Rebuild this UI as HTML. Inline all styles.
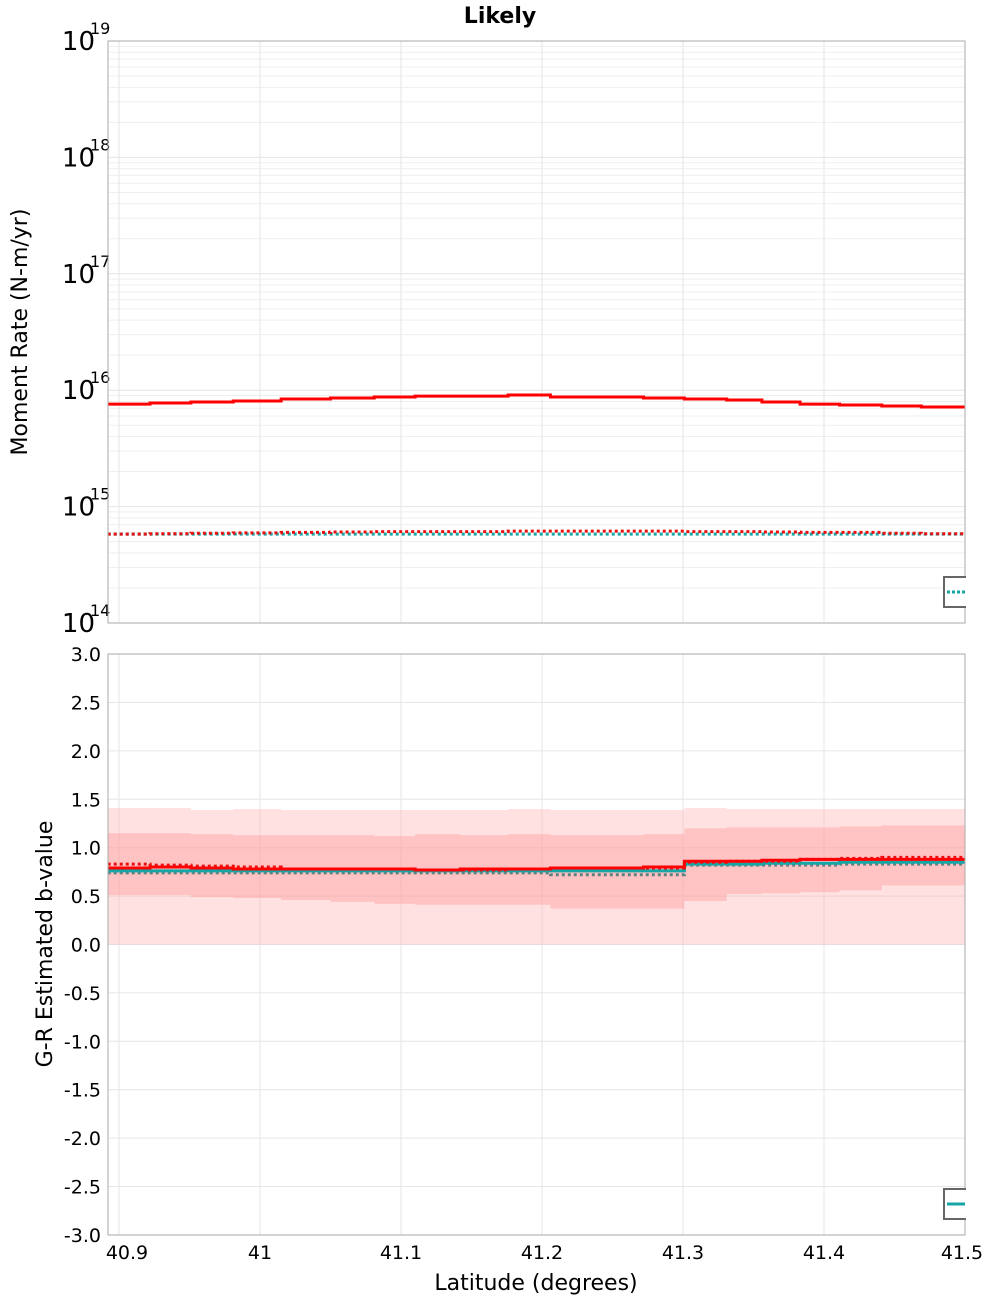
<!DOCTYPE html>
<html><head><meta charset="utf-8"><style>
body{margin:0;background:#fff;}
svg text{font-family:"DejaVu Sans","Liberation Sans",sans-serif;}
</style></head><body>
<svg id="chart" width="1000" height="1300" xmlns="http://www.w3.org/2000/svg">
<text x="500" y="23" text-anchor="middle" font-size="22" font-weight="bold">Likely</text>
<text transform="translate(27,332) rotate(-90)" text-anchor="middle" font-size="22">Moment Rate (N-m/yr)</text>
<text transform="translate(52,944) rotate(-90)" text-anchor="middle" font-size="22">G-R Estimated b-value</text>
<text x="536" y="1290" text-anchor="middle" font-size="22">Latitude (degrees)</text>
<g id="topPanel"></g>
<g id="botPanel"></g>
</svg>
<script>
const edges=[40.892,40.922,40.951,40.981,41.015,41.050,41.081,41.110,41.142,41.176,41.206,41.272,41.301,41.331,41.356,41.383,41.411,41.441,41.469,41.5];
const momentSolid=[7.6e15,7.76e15,7.92e15,8.08e15,8.4e15,8.57e15,8.74e15,8.9e15,8.9e15,9.1e15,8.74e15,8.57e15,8.4e15,8.24e15,7.92e15,7.6e15,7.46e15,7.31e15,7.17e15];
const momentRedDot=[5.8e14,5.85e14,5.9e14,5.95e14,6.0e14,6.05e14,6.1e14,6.1e14,6.1e14,6.15e14,6.15e14,6.15e14,6.1e14,6.1e14,6.05e14,6.0e14,6.0e14,5.9e14,5.85e14];
const momentTeal=[5.8e14,5.8e14,5.8e14,5.8e14,5.8e14,5.8e14,5.8e14,5.8e14,5.8e14,5.8e14,5.8e14,5.8e14,5.8e14,5.8e14,5.8e14,5.8e14,5.8e14,5.8e14,5.8e14];
const bRed=[0.79,0.80,0.79,0.78,0.78,0.78,0.78,0.77,0.78,0.78,0.79,0.80,0.86,0.86,0.87,0.88,0.88,0.88,0.88];
const bRedDot=[0.83,0.82,0.81,0.80,0.78,0.78,0.78,0.77,0.77,0.78,0.79,0.79,0.85,0.86,0.86,0.88,0.89,0.90,0.90];
const bTeal=[0.76,0.76,0.76,0.76,0.76,0.76,0.76,0.76,0.76,0.76,0.76,0.76,0.83,0.83,0.84,0.84,0.85,0.85,0.85];
const bGray=[0.74,0.74,0.74,0.74,0.74,0.74,0.74,0.74,0.74,0.74,0.72,0.72,0.82,0.82,0.82,0.82,0.83,0.83,0.83];
const outerHi=[1.41,1.41,1.39,1.40,1.39,1.39,1.39,1.39,1.39,1.40,1.39,1.39,1.41,1.40,1.40,1.40,1.40,1.40,1.40];
const outerLo=[0,0,0,0,0,0,0,0,0,0,0,0,0,0,0,0,0,0,0];
const innerHi=[1.15,1.15,1.14,1.13,1.13,1.13,1.12,1.14,1.13,1.14,1.13,1.14,1.20,1.21,1.21,1.21,1.22,1.23,1.23];
const innerLo=[0.51,0.51,0.49,0.48,0.46,0.44,0.42,0.41,0.41,0.41,0.37,0.37,0.45,0.52,0.53,0.54,0.56,0.61,0.61];
const xTicks=[40.9,41,41.1,41.2,41.3,41.4,41.5];
const xTickLabels=["40.9","41","41.1","41.2","41.3","41.4","41.5"];
const decades=[14,15,16,17,18,19];
const bTicks=[3,2.5,2,1.5,1,0.5,0,-0.5,-1,-1.5,-2,-2.5,-3];

const NS="http://www.w3.org/2000/svg";
const L=108,R=965;
const X=v=>119+(v-40.9)*1410;
const YT=v=>623-(Math.log10(v)-14)*116.4;
const YB=v=>944.5-v*96.8;
function mk(p,tag,a,txt){const el=document.createElementNS(NS,tag);for(const k in a)el.setAttribute(k,a[k]);if(txt!==undefined)el.textContent=txt;p.appendChild(el);return el;}
function stepPath(vals,Y){let d="";for(let i=0;i<vals.length;i++){const y=Y(vals[i]);d+=(i?"L":"M")+X(edges[i])+","+y+"L"+X(edges[i+1])+","+y;}return d;}
function bandPath(hi,lo,Y){let d="";for(let i=0;i<hi.length;i++){d+=(i?"L":"M")+X(edges[i])+","+Y(hi[i])+"L"+X(edges[i+1])+","+Y(hi[i]);}for(let i=lo.length-1;i>=0;i--){d+="L"+X(edges[i+1])+","+Y(lo[i])+"L"+X(edges[i])+","+Y(lo[i]);}return d+"Z";}

const topG=document.getElementById('topPanel');
let e;
decades.forEach((d)=>{
  for(let m=1;m<=9;m++){ if(d===19&&m>1)break;
    const y=YT(m*Math.pow(10,d));
    e=mk(topG,'line',{x1:L,x2:R,y1:y,y2:y,stroke:m===1?'#e4e4e4':'#efefef','stroke-width':1});
    
    }
  const y=YT(Math.pow(10,d));
  const t=mk(topG,'text',{x:95,y:y+9,'text-anchor':'end','font-size':26},'10');
  
  
  const s=mk(topG,'text',{x:90,y:y-7,'font-size':16},String(d));
  
  
});
xTicks.forEach(v=>{[[41,623],[654,1235]].forEach(r=>{e=mk(topG,'line',{x1:X(v),x2:X(v),y1:r[0],y2:r[1],stroke:'#e6e6e6','stroke-width':1});

});});
e=mk(topG,'path',{d:stepPath(momentTeal,YT),fill:'none',stroke:'#17a6a6','stroke-width':3,'stroke-dasharray':'3 3'});


e=mk(topG,'path',{d:stepPath(momentRedDot,YT),fill:'none',stroke:'#e81010','stroke-width':3,'stroke-dasharray':'3 3'});


e=mk(topG,'path',{d:stepPath(momentSolid,YT),fill:'none',stroke:'#ff0000','stroke-width':3});


e=mk(topG,'rect',{x:L,y:41,width:R-L,height:582,fill:'none',stroke:'#aaa','stroke-width':1});


e=mk(topG,'path',{d:'M966,577H944V607H966',fill:'#fff',stroke:'#666','stroke-width':2});


e=mk(topG,'line',{x1:947,x2:965,y1:592,y2:592,stroke:'#17a6a6','stroke-width':3,'stroke-dasharray':'3 2'});



const botG=document.getElementById('botPanel');
bTicks.forEach(v=>{const y=YB(v);
  e=mk(botG,'line',{x1:L,x2:R,y1:y,y2:y,stroke:'#e6e6e6','stroke-width':1});
  
  
  e=mk(botG,'text',{x:101,y:y+7,'text-anchor':'end','font-size':19},v.toFixed(1));
  
  });
e=mk(botG,'path',{d:bandPath(outerHi,outerLo,YB),fill:'rgba(255,170,170,0.35)'});


e=mk(botG,'path',{d:bandPath(innerHi,innerLo,YB),fill:'rgba(255,150,150,0.4)'});


e=mk(botG,'path',{d:stepPath(bGray,YB),fill:'none',stroke:'#5f8080','stroke-width':3,'stroke-dasharray':'3 3'});


e=mk(botG,'path',{d:stepPath(bTeal,YB),fill:'none',stroke:'#17a6a6','stroke-width':3});


e=mk(botG,'path',{d:stepPath(bRedDot,YB),fill:'none',stroke:'#e81010','stroke-width':3,'stroke-dasharray':'3 3'});


e=mk(botG,'path',{d:stepPath(bRed,YB),fill:'none',stroke:'#ff0000','stroke-width':3});


e=mk(botG,'rect',{x:L,y:654,width:R-L,height:581,fill:'none',stroke:'#aaa','stroke-width':1});


e=mk(botG,'path',{d:'M966,1189H944V1219H966',fill:'#fff',stroke:'#666','stroke-width':2});


e=mk(botG,'line',{x1:947,x2:965,y1:1204,y2:1204,stroke:'#17a6a6','stroke-width':3});


xTicks.forEach((v,i)=>{let x=X(v);if(i===0)x=127;if(i===xTicks.length-1)x=962;
  e=mk(botG,'text',{x:x,y:1259,'text-anchor':'middle','font-size':19},xTickLabels[i]);
  
  });
</script>
</body></html>
